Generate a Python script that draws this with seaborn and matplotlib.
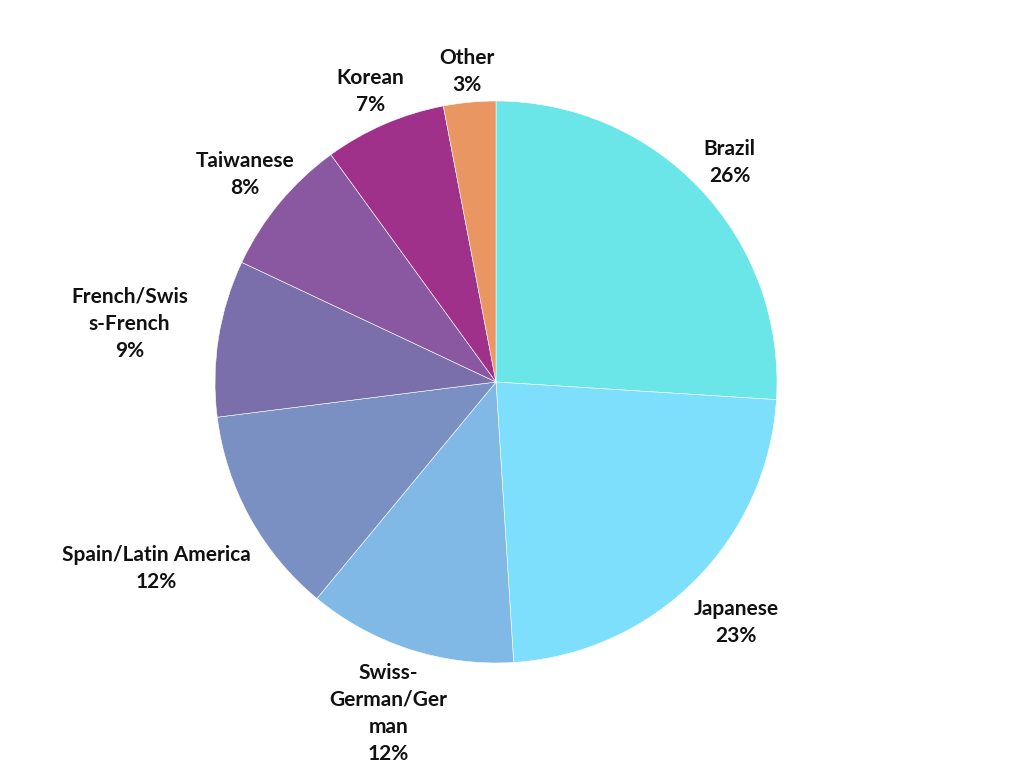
import matplotlib
matplotlib.use("Agg")
import matplotlib.pyplot as plt
import seaborn as sns
import numpy as np

labels = ["Brazil", "Japanese", "Swiss-\nGerman/Ger\nman", "Spain/Latin America",
          "French/Swis\ns-French", "Taiwanese", "Korean", "Other"]
values = [26, 23, 12, 12, 9, 8, 7, 3]
colors = ["#6ae5e8", "#7edffc", "#80b9e6", "#7a90c2", "#7a6fab", "#8a57a1", "#a0318a", "#ea9662"]
# how far out each label sits (in pie radii)
label_dist = [1.14, 1.21, 1.24, 1.38, 1.32, 1.16, 1.125, 1.11]

sns.set_theme(style="white")
plt.rcParams['font.family'] = ['Lato', 'DejaVu Sans']

fig = plt.figure(figsize=(10.24, 7.68), dpi=100)
cx, cy, r = 496, 382, 281
ax = fig.add_axes([(cx - r) / 1024, (768 - cy - r) / 768, 2 * r / 1024, 2 * r / 768])

texts = [f"{l}\n{v}%" for l, v in zip(labels, values)]
wedges, txts = ax.pie(values, labels=texts, colors=colors, startangle=90, counterclock=False,
                      radius=1,
                      wedgeprops=dict(edgecolor="white", linewidth=0.4),
                      textprops=dict(fontsize=15, fontweight="bold", color="#111111",
                                     linespacing=1.45))
total = sum(values)
cum = np.cumsum([0] + values[:-1])
for t, c, v, d in zip(txts, cum, values, label_dist):
    ang = np.deg2rad(90 - (c + v / 2) / total * 360)
    t.set_position((d * np.cos(ang), d * np.sin(ang)))
    t.set_ha("center")
    t.set_va("center")
    t.set_fontweight("bold")
    t.set_clip_on(False)

ax.set_xlim(-1, 1)
ax.set_ylim(-1, 1)
ax.set_aspect("equal")
ax.axis("off")

fig.savefig("out.png", dpi=100)
